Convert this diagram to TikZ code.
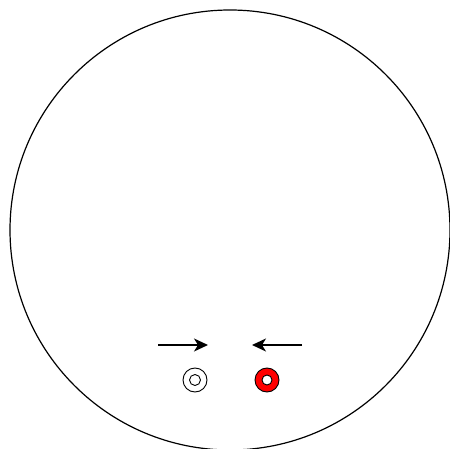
\documentclass[tikz,border=0pt]{standalone}
\usepackage{tikz}
\usetikzlibrary{arrows.meta}
\definecolor{ringred}{HTML}{FF0000}

\begin{document}
\begin{tikzpicture}[x=1pt,y=-1pt,>={Stealth[length=14pt,width=13pt,inset=4pt]},
  ring/.style={circle,draw=black,line width=0.9pt,inner sep=0pt,minimum size=#1},
  flow/.style={->,line width=1.4pt}]
  \useasboundingbox (0,0) rectangle (450,449);
  \clip (0,0) rectangle (450,449);
  \draw[line width=1.2pt] (230,230) circle (220);
  % white marker
  \node[ring=24pt,fill=white] (wout) at (195,380) {};
  \node[ring=11pt,fill=white] (win) at (wout.center) {};
  % red marker
  \node[ring=24pt,fill=ringred] (rout) at (267,380) {};
  \node[ring=10pt,fill=white] (rin) at (rout.center) {};
  % arrows
  \coordinate (ls) at (158,345);
  \coordinate (le) at (208,345);
  \coordinate (rs) at (302,345);
  \coordinate (re) at (252,345);
  \draw[flow] (ls) -- (le);
  \draw[flow] (rs) -- (re);
\end{tikzpicture}
\end{document}
